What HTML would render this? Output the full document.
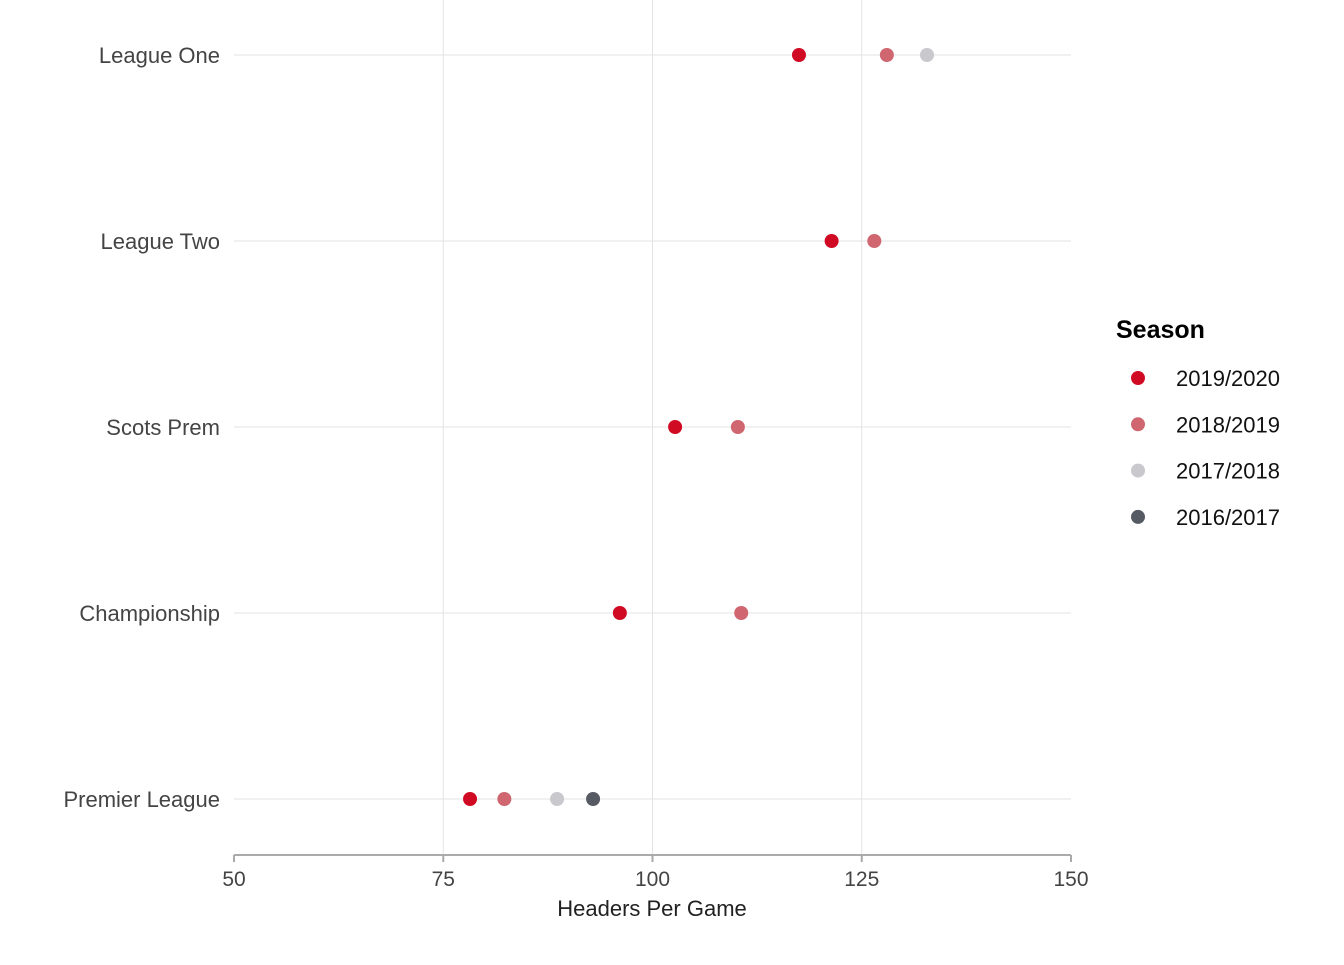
<!DOCTYPE html>
<html><head><meta charset="utf-8"><style>
body{margin:0;background:#fff;font-family:"Liberation Sans",sans-serif}
svg text{font-family:"Liberation Sans",sans-serif}
</style></head><body>
<svg id="chart" width="1344" height="960" xmlns="http://www.w3.org/2000/svg">
<g id="grid"></g>
<g id="axis"></g>
<g id="ylabels"></g>
<g id="points"></g>
<text x="652" y="916" text-anchor="middle" font-size="22" fill="#222">Headers Per Game</text>
<g id="legend">
<text x="1116" y="338" font-size="25" font-weight="bold" fill="#000">Season</text>
</g>
</svg>
<script>
const leagues = ["League One","League Two","Scots Prem","Championship","Premier League"];
const seasons = ["2019/2020","2018/2019","2017/2018","2016/2017"];
const colors = ["#d10a24","#cf6670","#c8c8cd","#555a63"];
const values = [
  [117.5,128.0,132.8,null],
  [121.4,126.5,null,null],
  [102.7,110.2,null,null],
  [96.1,110.6,null,null],
  [78.2,82.3,88.6,92.9]
];
const xTicks = [50,75,100,125,150];
const NS="http://www.w3.org/2000/svg";
const x=v=>234+(v-50)*(1071-234)/100;
const y=i=>55+i*186;
function el(t,a,p){const e=document.createElementNS(NS,t);for(const k in a)e.setAttribute(k,a[k]);p.appendChild(e);return e;}
const grid=document.getElementById('grid'),axis=document.getElementById('axis'),yl=document.getElementById('ylabels'),pts=document.getElementById('points'),lg=document.getElementById('legend');
xTicks.forEach(t=>{
  if(t>50&&t<150){const l=el('line',{x1:x(t),x2:x(t),y1:0,y2:855,stroke:'#e3e3e3','stroke-width':1},grid);
  }
  const tk=el('line',{x1:x(t),x2:x(t),y1:855,y2:862,stroke:'#aaa','stroke-width':2},axis);
  
  const tx=el('text',{x:x(t),y:886,'text-anchor':'middle','font-size':21,fill:'#444'},axis);tx.textContent=t;
  
});
const al=el('line',{x1:234,x2:1071,y1:855,y2:855,stroke:'#aaa','stroke-width':2},axis);

leagues.forEach((lgName,i)=>{
  const l=el('line',{x1:234,x2:1071,y1:y(i),y2:y(i),stroke:'#e3e3e3','stroke-width':1},grid);
  
  const t=el('text',{x:220,y:y(i)+8,'text-anchor':'end','font-size':22,fill:'#444'},yl);t.textContent=lgName;
  
  values[i].forEach((v,j)=>{ if(v==null)return;
    const c=el('circle',{cx:x(v),cy:y(i),r:7,fill:colors[j]},pts);
    
  });
});
seasons.forEach((s,j)=>{
  const yy=378+j*46.3;
  const c=el('circle',{cx:1138,cy:yy,r:7,fill:colors[j]},lg);
  
  const t=el('text',{x:1176,y:yy+8,'font-size':22,fill:'#111'},lg);t.textContent=s;
  
});
</script>
</body></html>
